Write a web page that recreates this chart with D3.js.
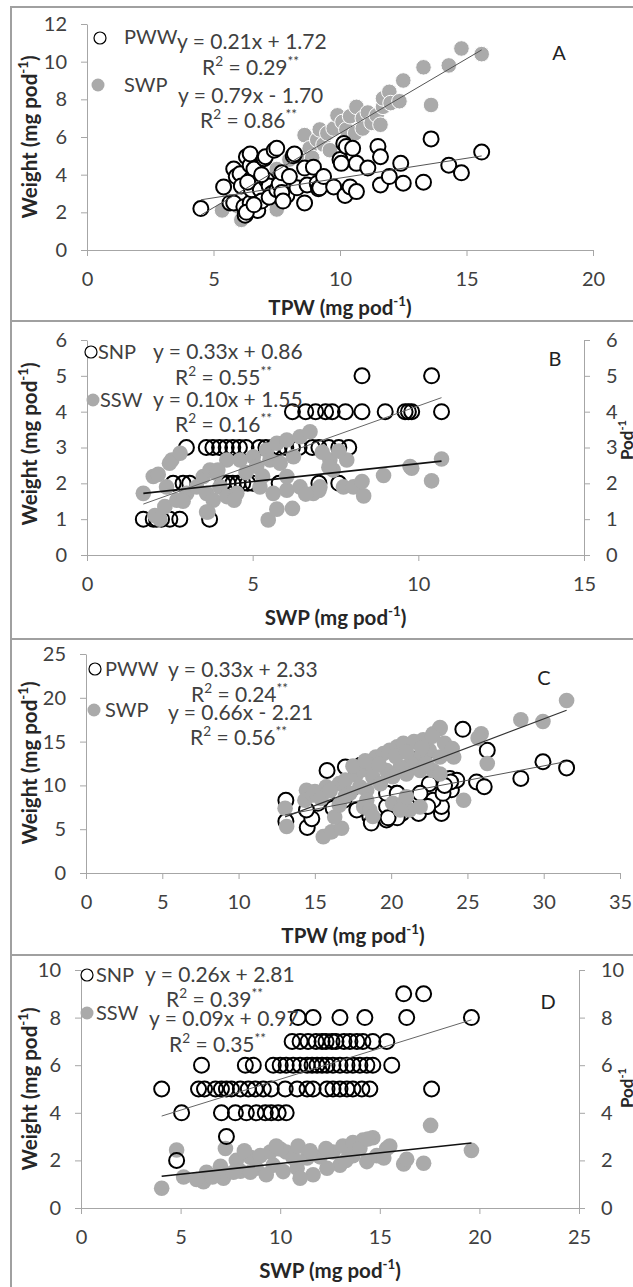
<!DOCTYPE html>
<html><head><meta charset="utf-8">
<script src="https://cdn.jsdelivr.net/npm/d3@7"></script>
<style>body{margin:0;background:#fff;}svg{display:block;}text{font-family:Lato,'Open Sans',sans-serif;}</style>
</head><body><svg id="c" width="633" height="1287"></svg>
<script>
// ---------- DATA ----------
// Panel A: x = TPW, y = weight
const aSWP = [[5.34,2.1],[6.1,1.6],[7.5,2.15],[6.0,2.3],[6.5,3.2],[6.8,2.8],[7.0,3.8],[7.5,4.3],[7.8,3.6],[8.0,4.8],[8.3,5.0],
 [8.6,6.1],[8.8,5.4],[8.9,4.9],[9.1,5.85],[9.2,6.4],[9.35,5.6],[9.5,6.2],[9.6,5.3],[9.75,6.45],[9.9,7.15],[10.1,6.8],[10.25,6.4],[10.4,7.1],
 [10.6,6.2],[10.65,7.6],[10.9,7.0],[10.9,6.45],[11.1,7.3],[11.25,6.75],[11.45,7.15],[11.6,6.65],[11.7,7.6],[11.7,8.05],[11.95,8.4],
 [12.0,7.8],[12.35,7.9],[12.5,9.0],[13.3,9.7],[13.6,7.7],[14.3,9.8],[14.8,10.7],[15.6,10.4]];
const aPWW = [[4.5,2.2],[5.4,3.35],[5.65,2.5],[5.8,2.5],[5.8,4.3],[5.9,3.9],[6.05,4.05],[6.1,3.4],[6.2,2.3],[6.25,1.85],[6.3,4.95],[6.45,4.5],
 [6.45,2.5],[6.5,3.2],[6.5,3.8],[6.45,5.1],[6.6,4.3],[6.75,2.1],[6.85,3.2],[6.9,2.6],[7.0,4.85],[7.05,4.95],[7.1,3.7],[7.2,3.4],[7.3,3.0],
 [6.3,2.0],[6.6,2.4],[6.35,3.6],[6.9,4.0],[7.2,2.8],[7.5,3.2],[7.9,2.9],[8.3,3.3],
 [7.4,5.3],[7.5,5.4],[7.6,3.5],[7.7,4.1],[7.7,3.05],[7.75,2.6],[8.0,3.9],[8.15,5.0],[8.2,5.1],[8.6,4.35],[8.6,2.5],[8.7,3.45],[8.95,4.4],
 [9.1,3.55],[9.15,3.25],[9.2,3.3],[9.35,3.9],[9.75,3.35],[10.0,4.8],[10.05,4.6],[10.15,5.65],[10.25,5.5],[10.2,2.9],[10.4,3.35],[10.5,5.4],
 [10.65,3.1],[10.65,4.6],[11.1,4.35],[11.5,5.5],[11.6,4.95],[11.6,3.45],[11.95,3.9],[12.4,4.6],[12.5,3.55],[13.3,3.6],[13.6,5.9],
 [14.3,4.5],[14.8,4.1],[15.6,5.2]];
// Panel B: x = SWP, y = SNP (count) and SSW (weight)
const bSNP = [[8.3,5],[10.4,5],
 [6.2,4],[6.6,4],[6.9,4],[7.2,4],[7.4,4],[7.8,4],[8.3,4],[9.0,4],[9.6,4],[9.7,4],[9.8,4],[10.7,4],
 [3.0,3],[3.6,3],[3.8,3],[4.0,3],[4.2,3],[4.4,3],[4.6,3],[4.8,3],[5.2,3],[5.4,3],[5.6,3],[5.8,3],[6.0,3],[6.2,3],[6.4,3],[6.8,3],[7.0,3],[7.3,3],[7.6,3],[7.9,3],
 [2.6,2],[2.9,2],[3.1,2],[4.1,2],[4.25,2],[4.4,2],[4.55,2],[4.7,2],[4.85,2],[5.0,2],[5.8,2],[7.0,2],[7.6,2],
 [1.7,1],[2.0,1],[2.1,1],[2.25,1],[2.5,1],[2.8,1],[3.7,1]];
const bSSW = [[1.7,1.72],[2.0,2.19],[2.15,2.25],[2.56,2.65],[2.81,2.84],[2.05,1.1],[2.35,1.35],[2.2,1.0],[2.71,1.53],[3.01,1.72],
 [3.31,1.9],[3.51,2.19],[3.71,2.37],[3.91,2.28],[3.61,1.72],[3.81,1.53],[4.01,1.9],[4.22,1.63],[4.52,1.72],[3.61,1.2],[4.22,2.65],
 [4.62,2.65],[5.02,2.74],[5.42,2.93],[5.73,3.12],[6.03,3.21],[6.43,3.3],[6.73,3.44],[5.12,2.47],[5.52,2.65],[5.83,2.56],[6.23,2.74],
 [5.22,1.9],[5.62,1.72],[6.03,1.81],[6.43,1.9],[6.83,1.72],[7.33,2.65],[7.43,2.37],[7.84,2.65],[7.74,1.9],[8.04,1.9],[8.35,1.65],
 [8.3,2.05],[8.95,2.22],[9.75,2.47],[5.47,0.98],[5.73,1.28],[6.2,1.3],[6.03,2.19],[7.03,1.9],[10.4,2.07],[10.7,2.68],[9.8,2.42],
 [2.49,2.56],[4.44,1.53],[3.95,2.37],[3.65,1.2],[7.1,2.87],[7.0,1.8],[6.6,1.7],[4.8,2.3],[5.3,2.2],[2.4,1.9],[2.9,1.5],[7.6,2.9],[7.3,2.45]];
// Panel C: x = TPW, y = weight
const cPWW = [[13.1,8.3],[13.1,5.9],[14.5,5.2],[14.8,6.2],[15.8,11.7],[17.0,12.1],[18.0,12.3],[24.7,16.4],[26.3,14.0],[25.6,10.4],[26.1,9.85],
 [23.3,6.8],[23.3,7.6],[23.95,9.5],[23.85,10.8],[24.3,10.6],[22.5,10.2],[22.75,8.3],[22.3,7.6],[21.9,9.1],[20.35,9.1],[20.15,8.7],
 [20.6,8.3],[19.9,6.45],[19.7,6.05],[18.6,6.45],[17.75,7.2],[16.9,8.3],[16.4,9.1],[15.2,7.95],[15.75,8.7],[16.2,7.4],[14.45,7.2],
 [21.55,7.2],[21.1,7.6],[20.7,6.8],[19.7,7.6],[28.5,10.8],[29.95,12.7],[31.5,12.0],[23.4,9.1],[23.9,10.4],[18.7,5.7],[20.4,6.3],
 [19.8,6.3],[21.8,6.8],[22.4,7.6],[19.7,9.1],[20.4,9.1],[17.6,9.85],[23.5,10.0],[21.6,14.6],[22.3,13.8]];
const cSWP = [[13.05,7.4],[13.15,5.3],[14.45,9.45],[14.35,8.3],[14.9,8.9],[15.55,4.15],[16.1,4.7],[16.75,5.1],[16.3,6.4],[16.6,7.75],
 [15.75,9.85],[16.6,10.2],[17.0,10.6],[17.7,11.2],[18.1,11.8],[18.6,12.5],[19.0,13.25],[19.5,13.65],[19.9,14.0],[20.4,14.4],[20.8,14.8],
 [21.5,15.0],[22.1,15.2],[22.75,15.9],[23.2,16.6],[22.5,14.0],[23.2,13.25],[23.65,13.65],[24.1,13.25],[21.9,13.25],[21.3,12.5],
 [20.6,12.1],[19.7,11.7],[18.8,10.95],[17.95,9.85],[17.3,9.1],[18.4,9.45],[19.3,10.2],[20.1,11.0],[21.0,11.3],[21.9,11.7],[22.75,11.7],
 [23.2,11.3],[22.3,12.5],[18.4,8.3],[18.2,7.55],[18.6,7.2],[18.8,6.45],[20.1,7.95],[20.8,7.95],[21.2,7.2],[21.9,7.55],[20.6,7.2],
 [21.0,8.7],[24.75,8.3],[26.3,12.5],[25.9,15.9],[25.7,15.4],[28.5,17.5],[29.95,17.3],[31.5,19.7],[23.2,16.5],[22.7,15.6],[15.0,9.3],
 [15.4,8.5],[17.5,12.2],[18.3,12.8],[19.2,12.4],[20.3,13.3],[21.0,13.8],[22.0,14.3],[23.5,14.8],[24.0,14.2],[16.0,9.4],[17.0,8.8]];
// Panel D: x = SWP, y = SNP (count) and SSW (weight)
const dSNP = [[16.2,9],[17.2,9],
 [10.9,8],[11.65,8],[13.0,8],[14.25,8],[16.35,8],[19.6,8],
 [10.6,7],[11.0,7],[11.4,7],[11.8,7],[12.1,7],[12.3,7],[12.6,7],[12.8,7],[13.2,7],[13.5,7],[13.85,7],[14.15,7],[14.65,7],[15.35,7],
 [6.05,6],[8.25,6],[8.65,6],[9.65,6],[10.0,6],[10.3,6],[10.65,6],[11.0,6],[11.35,6],[11.6,6],[11.85,6],[12.1,6],[12.35,6],[12.65,6],
 [13.0,6],[13.35,6],[13.65,6],[14.0,6],[14.35,6],[14.65,6],[15.6,6],
 [4.05,5],[5.9,5],[6.2,5],[6.75,5],[7.05,5],[7.3,5],[7.55,5],[8.0,5],[8.4,5],[8.75,5],[9.15,5],[9.55,5],[10.25,5],[10.85,5],[11.35,5],
 [11.65,5],[12.35,5],[12.65,5],[13.0,5],[13.35,5],[13.65,5],[14.1,5],[14.5,5],[17.6,5],
 [5.05,4],[7.05,4],[7.75,4],[8.3,4],[8.8,4],[9.25,4],[9.55,4],[9.9,4],[10.3,4],
 [7.3,3],[4.8,2]];
const dSSW = [[4.05,0.83],[4.8,2.44],[5.15,1.3],[6.15,1.1],[6.3,1.5],[7.0,1.75],[7.25,2.5],[7.15,1.25],[7.8,2.0],[8.0,1.55],[8.5,2.13],
 [9.0,2.2],[8.8,1.67],[9.5,2.35],[10.0,2.48],[10.3,2.35],[9.65,1.8],[10.15,1.53],[10.85,1.67],[11.35,2.1],[12.0,2.15],[12.65,2.35],
 [13.15,2.6],[13.65,2.75],[14.15,2.85],[14.65,2.95],[13.65,2.2],[13.0,1.8],[12.35,1.67],[11.65,1.4],[11.0,1.25],[10.65,2.1],[14.35,1.95],
 [14.85,2.2],[15.35,2.5],[15.2,2.1],[16.2,1.85],[16.35,2.05],[17.2,1.88],[17.55,3.47],[19.6,2.42],[7.65,1.5],[8.5,1.5],[9.3,1.4],
 [6.6,1.3],[5.8,1.2],[8.2,2.4],[9.8,2.6],[10.9,2.6],[11.5,2.4],[12.3,2.5],[13.3,2.0],[14.0,2.5],[14.4,2.9],[15.5,2.6]];

// regression coefficients [slope, intercept] per panel: [open series, filled series]
const fitA = [[0.21,1.72],[0.79,-1.70]];
const fitB = [[0.33,0.86],[0.10,1.55]];
const fitC = [[0.33,2.33],[0.66,-2.21]];
const fitD = [[0.26,2.81],[0.09,0.97]];

// texts
const eqA = ["y = 0.21x + 1.72","R^2^ = 0.29^**^","y = 0.79x - 1.70","R^2^ = 0.86^**^"];
const eqB = ["y = 0.33x + 0.86","R^2^ = 0.55^**^","y = 0.10x + 1.55","R^2^ = 0.16^**^"];
const eqC = ["y = 0.33x + 2.33","R^2^ = 0.24^**^","y = 0.66x - 2.21","R^2^ = 0.56^**^"];
const eqD = ["y = 0.26x + 2.81","R^2^ = 0.39^**^","y = 0.09x + 0.97","R^2^ = 0.35^**^"];
const legendA = ["PWW","SWP"], legendB = ["SNP","SSW"], legendC = ["PWW","SWP"], legendD = ["SNP","SSW"];
const xTitleA = "TPW (mg pod^-1^)", xTitleB = "SWP (mg pod^-1^)", xTitleC = "TPW (mg pod^-1^)", xTitleD = "SWP (mg pod^-1^)";
const yTitle = "Weight (mg pod^-1^)", rTitle = "Pod^-1^";
const xTicksA = [0,5,10,15,20], yTicksA = [0,2,4,6,8,10,12];
const xTicksB = [0,5,10,15], yTicksB = [0,1,2,3,4,5,6];
const xTicksC = [0,5,10,15,20,25,30,35], yTicksC = [0,5,10,15,20,25];
const xTicksD = [0,5,10,15,20,25], yTicksD = [0,2,4,6,8,10];

// ---------- LAYOUT ----------
const panels = [
 {open:aPWW, fill:aSWP, fit:fitA, eq:eqA, leg:legendA, xt:xTitleA, xTicks:xTicksA, yTicks:yTicksA, letter:"A",
  x0:87,x1:593,yb:250,yt:24, xTitleY:315, yTitleY:137, right:false, openFill:"#fff", openOnTop:true, fillStroke:"#fff",
  eqPos:[[177,42],[202,68],[178,96],[200,121]], legM:[[100,38],[98,85]], legT:[[124,37],[124,85]], letPos:[559,53],
  lineCol:["#555","#555"], lineW:[1,1]},
 {open:bSNP, fill:bSSW, fit:fitB, eq:eqB, leg:legendB, xt:xTitleB, xTicks:xTicksB, yTicks:yTicksB, letter:"B",
  x0:87,x1:584,yb:555,yt:340, xTitleY:625, yTitleY:444, right:true, rTitleY:440, openFill:"none", openOnTop:false, fillStroke:"none",
  eqPos:[[153,352],[175,378],[153,400],[175,425]], legM:[[91,352],[93,400]], legT:[[98,352],[100,400]], letPos:[555,359],
  lineCol:["#666","#111"], lineW:[1,1.6]},
 {open:cPWW, fill:cSWP, fit:fitC, eq:eqC, leg:legendC, xt:xTitleC, xTicks:xTicksC, yTicks:yTicksC, letter:"C",
  x0:86,x1:620,yb:873,yt:654, xTitleY:943, yTitleY:763, right:false, openFill:"#fff", openOnTop:false, fillStroke:"none",
  eqPos:[[168,670],[191,695],[168,713],[190,738]], legM:[[95,669],[94,710]], legT:[[105,669],[105,710]], letPos:[544,678],
  lineCol:["#555","#333"], lineW:[1,1.2]},
 {open:dSNP, fill:dSSW, fit:fitD, eq:eqD, leg:legendD, xt:xTitleD, xTicks:xTicksD, yTicks:yTicksD, letter:"D",
  x0:81,x1:579,yb:1208,yt:970, xTitleY:1278, yTitleY:1089, right:true, rTitleY:1088, openFill:"none", openOnTop:true, fillStroke:"none",
  eqPos:[[145,975],[166,1000],[149,1019],[169,1045]], legM:[[87,975],[87,1013]], legT:[[96,975],[96,1013]], letPos:[548,1002],
  lineCol:["#666","#111"], lineW:[1,1.6]}
];

const svg = d3.select("#c");
const FS = 20, EQ = 21, TXT = "#404040", AX = "#a6a6a6", GRAY = "#aaaaaa", TT = 20.5;

function rich(sel, str, fs){
  const parts = str.split("^");
  let shifted = false;
  parts.forEach((p,i)=>{
    if(p.length){
      const t = sel.append("tspan").text(p);
      if(i%2===1){ t.attr("font-size", fs*0.65).attr("dy", -fs*0.42); shifted = true; }
      else if(shifted){ t.attr("dy", fs*0.42); shifted = false; }
    }
  });
}

// frame
svg.append("path").attr("d","M11,1290V7H640M11,321H640M11,639H640M11,955H640")
  .attr("fill","none").attr("stroke","#a0a0a0").attr("stroke-width",2);

panels.forEach(p=>{
  const dx = [0, p.xTicks[p.xTicks.length-1]], dy = [0, p.yTicks[p.yTicks.length-1]];
  const x = d3.scaleLinear().domain(dx).range([p.x0,p.x1]);
  const y = d3.scaleLinear().domain(dy).range([p.yb,p.yt]);
  const g = svg.append("g");
  const fmt = d3.format("d");
  const ax = [];
  ax.push(g.append("g").attr("transform",`translate(0,${p.yb})`)
    .call(d3.axisBottom(x).tickValues(p.xTicks).tickFormat(fmt).tickSize(6).tickPadding(16).tickSizeOuter(0)));
  ax.push(g.append("g").attr("transform",`translate(${p.x0},0)`)
    .call(d3.axisLeft(y).tickValues(p.yTicks).tickFormat(fmt).tickSize(6).tickPadding(14).tickSizeOuter(0)));
  if(p.right) ax.push(g.append("g").attr("transform",`translate(${p.x1},0)`)
    .call(d3.axisRight(y).tickValues(p.yTicks).tickFormat(fmt).tickSize(6).tickPadding(16).tickSizeOuter(0)));
  ax.forEach(a=>{
    a.select(".domain").attr("stroke",AX).attr("stroke-width",1);
    a.selectAll(".tick line").attr("stroke",AX);
    a.selectAll(".tick text").attr("fill",TXT).attr("font-size",FS).attr("font-family","Lato");
  });

  const drawOpen = ()=> g.append("g").selectAll("circle").data(p.open).join("circle")
     .attr("cx",d=>x(d[0])).attr("cy",d=>y(d[1])).attr("r",7.5)
     .attr("fill",p.openFill).attr("stroke","#000").attr("stroke-width",2);
  const drawFill = ()=> g.append("g").selectAll("circle").data(p.fill).join("circle")
     .attr("cx",d=>x(d[0])).attr("cy",d=>y(d[1])).attr("r",7.8)
     .attr("fill",GRAY).attr("stroke",p.fillStroke).attr("stroke-width",1);
  if(p.openOnTop){ drawFill(); drawOpen(); } else { drawOpen(); drawFill(); }

  // trend lines over the data range
  const ext = d3.extent(p.open.concat(p.fill), d=>d[0]);
  p.fit.forEach((f,i)=>{
    g.append("line").attr("x1",x(ext[0])).attr("y1",y(f[0]*ext[0]+f[1]))
      .attr("x2",x(ext[1])).attr("y2",y(f[0]*ext[1]+f[1]))
      .attr("stroke",p.lineCol[i]).attr("stroke-width",p.lineW[i]);
  });

  // legend
  g.append("circle").attr("cx",p.legM[0][0]).attr("cy",p.legM[0][1]).attr("r",6)
    .attr("fill","#fff").attr("stroke","#000").attr("stroke-width",1.2);
  g.append("circle").attr("cx",p.legM[1][0]).attr("cy",p.legM[1][1]).attr("r",6.5).attr("fill",GRAY);
  p.leg.forEach((t,i)=> g.append("text").attr("x",p.legT[i][0]).attr("y",p.legT[i][1]+7)
    .attr("font-size",FS).attr("fill",TXT).text(t));
  p.eq.forEach((t,i)=>{
    const tx = g.append("text").attr("x",p.eqPos[i][0]).attr("y",p.eqPos[i][1]+7)
      .attr("font-size",EQ).attr("fill",TXT);
    rich(tx,t,EQ);
  });
  g.append("text").attr("x",p.letPos[0]).attr("y",p.letPos[1]+7).attr("text-anchor","middle")
    .attr("font-size",FS).attr("fill","#222").text(p.letter);

  // titles
  const xt = g.append("text").attr("x",(p.x0+p.x1)/2).attr("y",p.xTitleY).attr("text-anchor","middle")
    .attr("font-size",TT).attr("font-weight","bold").attr("fill","#262626");
  rich(xt,p.xt,TT);
  const yt = g.append("text").attr("transform",`translate(37,${p.yTitleY}) rotate(-90)`).attr("text-anchor","middle")
    .attr("font-size",TT).attr("font-weight","bold").attr("fill","#262626");
  rich(yt,yTitle,TT);
  if(p.right){
    const rt = g.append("text").attr("transform",`translate(633,${p.rTitleY}) rotate(-90)`).attr("text-anchor","middle")
      .attr("font-size",17).attr("font-weight","bold").attr("fill","#262626");
    rich(rt,rTitle,17);
  }
});
</script></body></html>
